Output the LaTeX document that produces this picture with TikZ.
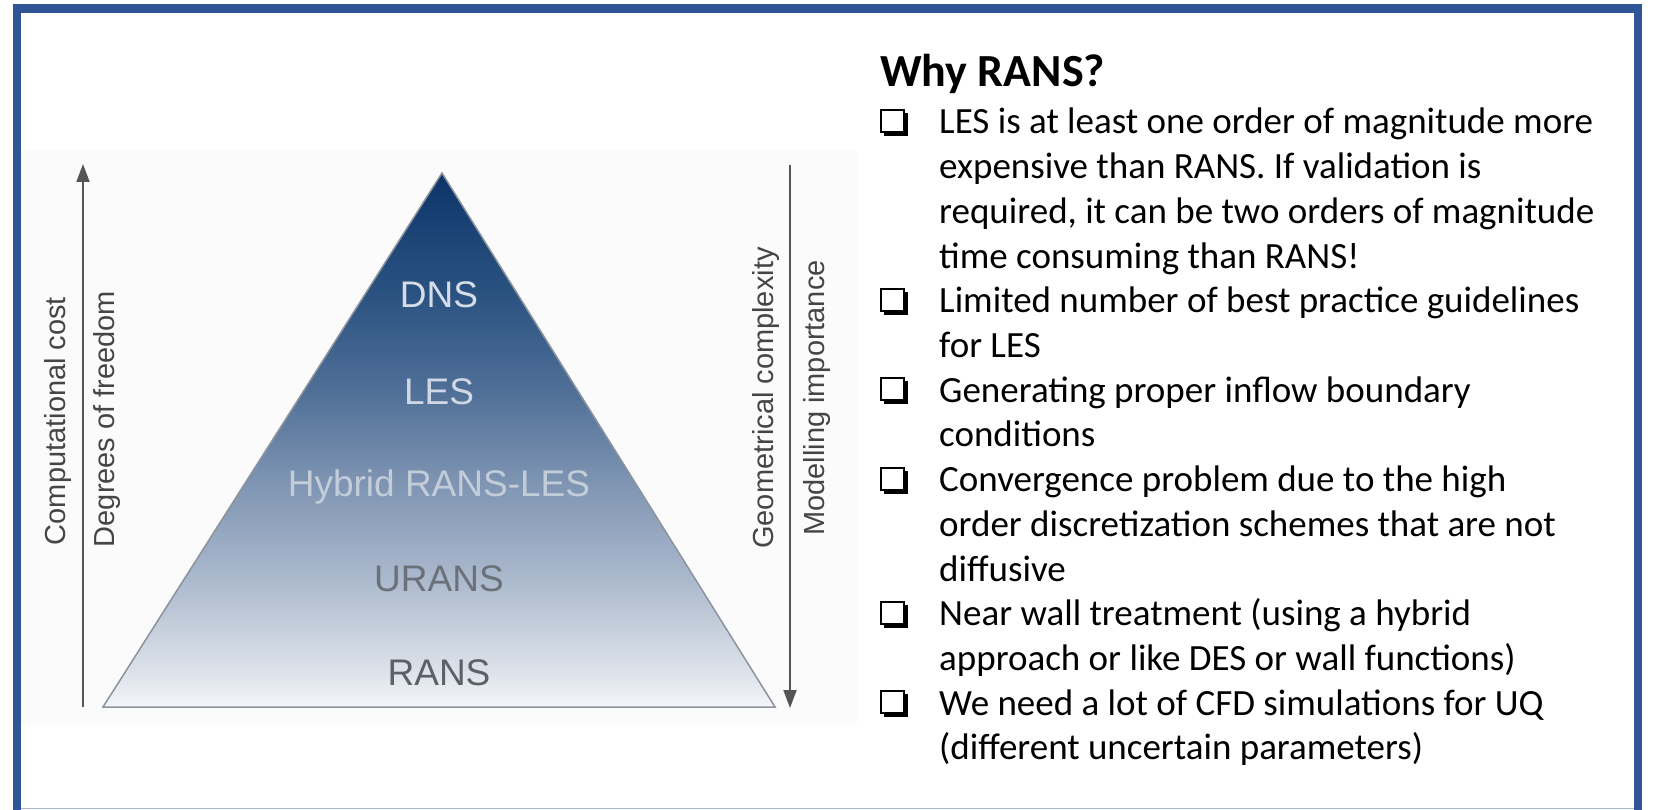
\documentclass[tikz,border=0pt]{standalone}
\usepackage{fontspec}
\setmainfont{Carlito}
\newfontfamily\pyrfont{Liberation Sans}
\usetikzlibrary{arrows.meta}

\definecolor{frameblue}{HTML}{2F5597}
\definecolor{frameline}{HTML}{A9B6CC}
\definecolor{photobg}{HTML}{FBFBFB}
\definecolor{edgegray}{HTML}{8C939C}
\definecolor{arrowgray}{HTML}{555555}
\definecolor{sidegray}{HTML}{454545}
% pyramid colour stops, bottom to top
\definecolor{pyr0}{HTML}{F4F6F9}
\definecolor{pyr1}{HTML}{DCE2EA}
\definecolor{pyr2}{HTML}{AAB8CC}
\definecolor{pyr3}{HTML}{7E94B2}
\definecolor{pyr4}{HTML}{4F6F97}
\definecolor{pyr5}{HTML}{2A5281}
\definecolor{pyr6}{HTML}{0C3468}
% label colours
\definecolor{lblDNS}{HTML}{D6DDE7}
\definecolor{lblLES}{HTML}{D0D8E3}
\definecolor{lblHYB}{HTML}{C3CDDA}
\definecolor{lblURANS}{HTML}{6B7179}
\definecolor{lblRANS}{HTML}{5C6067}

\pgfdeclareverticalshading{pyrshade}{100bp}{%
  color(0bp)=(pyr0); color(25bp)=(pyr0); color(28.4bp)=(pyr1);
  color(37.2bp)=(pyr2); color(46.1bp)=(pyr3); color(54.7bp)=(pyr4);
  color(63.8bp)=(pyr5); color(75bp)=(pyr6); color(100bp)=(pyr6)}

\tikzset{
  pyrlabel/.style={anchor=base, inner sep=0pt, font=\pyrfont\fontsize{37}{37}\selectfont},
  sidelabel/.style={rotate=90, inner sep=0pt, text=sidegray, font=\pyrfont\fontsize{29}{29}\selectfont},
  axisarrow/.style={line width=2pt, draw=arrowgray, -{Triangle[length=18pt,width=13pt]}},
  bodyline/.style={anchor=base west, inner sep=0pt, font=\fontsize{37}{44}\selectfont},
  cbox/.pic={
    \fill[black] (4,-4) rectangle (28,-27);
    \filldraw[fill=white, draw=black, line width=2pt] (1,-1) rectangle (24,-23);
  }
}

\begin{document}
\begin{tikzpicture}[x=1pt, y=1pt]
\useasboundingbox (0,0) rectangle (1653,-810);
\fill[white] (0,0) rectangle (1653,-810);

% outer frame
\draw[frameblue, line width=8.5pt] (17,-8.5) rectangle (1638,-840);
\draw[frameline, line width=1.5pt] (21,-808.5) -- (1634,-808.5);

% backdrop of the pyramid figure
\fill[photobg] (21,-150) rectangle (857,-725);

% pyramid
\coordinate (apex) at (442,-173);
\coordinate (baseL) at (103,-707);
\coordinate (baseR) at (775,-707);
\shade[shading=pyrshade] (apex) -- (baseL) -- (baseR) -- cycle;
\draw[edgegray, line width=1.5pt, line join=miter] (apex) -- (baseL) -- (baseR) -- cycle;

\node[pyrlabel, text=lblDNS]   (dns)   at (439,-307) {DNS};
\node[pyrlabel, text=lblLES]   (les)   at (439,-404) {LES};
\node[pyrlabel, text=lblHYB]   (hyb)   at (439,-496) {Hybrid RANS-LES};
\node[pyrlabel, text=lblURANS] (urans) at (439,-591) {URANS};
\node[pyrlabel, text=lblRANS]  (rans)  at (439,-685) {RANS};

% axes beside the pyramid
\coordinate (lowL) at (83,-707);
\coordinate (topL) at (83,-164);
\coordinate (topR) at (790,-165);
\coordinate (lowR) at (790,-708);
\draw[axisarrow] (lowL) -- (topL);
\draw[axisarrow] (topR) -- (lowR);

\node[sidelabel] (cost) at (58,-421)  {Computational cost};
\node[sidelabel] (dof)  at (107,-419) {Degrees of freedom};
\node[sidelabel] (geo)  at (766,-398) {Geometrical complexity};
\node[sidelabel] (mod)  at (817,-398) {Modelling importance};

% list on the right
\node[anchor=base west, inner sep=0pt, font=\bfseries\fontsize{46}{46}\selectfont] (title) at (880,-87) {Why RANS?};

\pic (b1) at (880,-109) {cbox};
\pic (b2) at (880,-288) {cbox};
\pic (b3) at (880,-377) {cbox};
\pic (b4) at (880,-467) {cbox};
\pic (b5) at (880,-601) {cbox};
\pic (b6) at (880,-690) {cbox};

\node[bodyline] (t1)  at (939,-134.0) {LES is at least one order of magnitude more};
\node[bodyline] (t2)  at (939,-178.7) {expensive than RANS. If validation is};
\node[bodyline] (t3)  at (939,-223.4) {required, it can be two orders of magnitude};
\node[bodyline] (t4)  at (939,-268.1) {time consuming than RANS!};
\node[bodyline] (t5)  at (939,-312.8) {Limited number of best practice guidelines};
\node[bodyline] (t6)  at (939,-357.5) {for LES};
\node[bodyline] (t7)  at (939,-402.2) {Generating proper inflow boundary};
\node[bodyline] (t8)  at (939,-446.9) {conditions};
\node[bodyline] (t9)  at (939,-491.6) {Convergence problem due to the high};
\node[bodyline] (t10) at (939,-536.3) {order discretization schemes that are not};
\node[bodyline] (t11) at (939,-581.0) {diffusive};
\node[bodyline] (t12) at (939,-625.7) {Near wall treatment (using a hybrid};
\node[bodyline] (t13) at (939,-670.4) {approach or like DES or wall functions)};
\node[bodyline] (t14) at (939,-715.1) {We need a lot of CFD simulations for UQ};
\node[bodyline] (t15) at (939,-759.8) {(different uncertain parameters)};
\end{tikzpicture}
\end{document}
